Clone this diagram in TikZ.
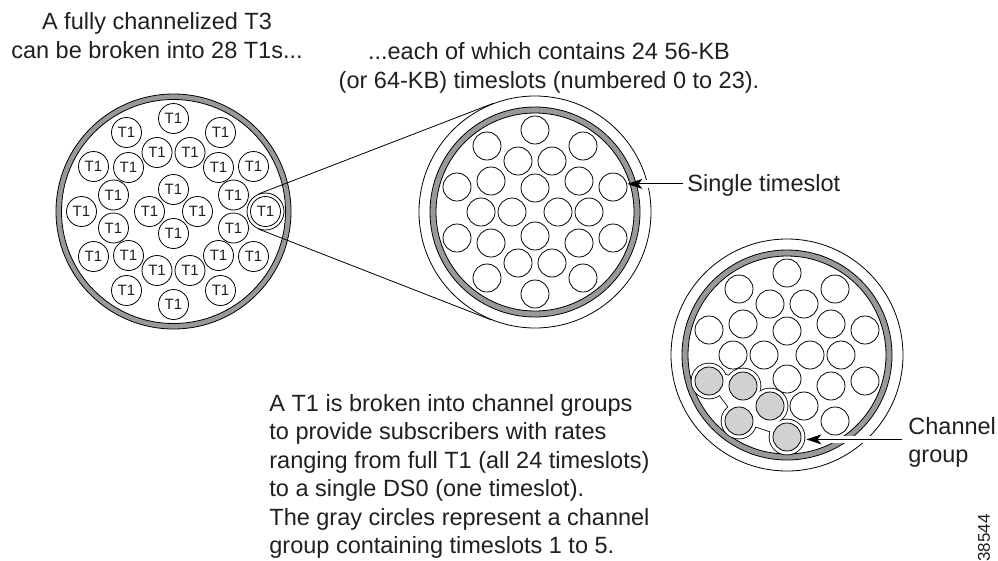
\documentclass[tikz,border=0pt]{standalone}
\usepackage{fontspec}
\setmainfont{Liberation Sans}
\usetikzlibrary{arrows.meta,calc}
\definecolor{ringgray}{gray}{0.6}
\definecolor{slotgray}{gray}{0.82}
\definecolor{ink}{HTML}{231F20}
\begin{document}
\begin{tikzpicture}[x=1pt, y=-1pt, line width=0.8pt,
  tonenode/.style={circle, draw, fill=white, inner sep=0pt, minimum size=30pt, font=\fontsize{15}{15}\selectfont, text=ink},
  slot/.style={circle, draw, fill=white, inner sep=0pt, minimum size=28pt},
  bigouter/.style={circle, draw, fill=white, inner sep=0pt, minimum size=232pt},
  ring/.style={draw, fill=ringgray, even odd rule},
  capt/.style={font=\fontsize{23.5}{28.5}\selectfont, inner sep=0pt, text=ink},
  pointer/.style={-{Stealth[length=15pt,width=10pt,inset=4pt]}, line width=1pt},
  halo/.style={draw=white, line width=8pt},
  blobline/.style={line width=1.6pt, line join=round}]
\useasboundingbox (0,0) rectangle (998,560);
\fill[white] (0,0) rectangle (998,560);

% ---------- left: channelized T3 ----------
\coordinate (L) at (173.5,211.5);
\path[ring] (L) circle[radius=117.5pt] (L) circle[radius=112pt];
\node[circle, draw, fill=white, inner sep=0pt, minimum size=37pt] (src) at ([shift={(92,0)}]L) {};
\foreach \n/\dx/\dy in {1/0/-93, 2/-47/-79, 3/47/-79, 4/-16.5/-59, 5/16.5/-59,
  6/-80/-45, 7/-45/-44, 8/45/-44, 9/80/-45, 10/0/-22, 11/-60/-16.5, 12/60/-16.5,
  13/-92/0, 14/-24/0, 15/24/0, 16/92/0, 17/0/22, 18/-60/16.5, 19/60/16.5,
  20/-80/45, 21/-45/44, 22/45/44, 23/80/45, 24/-16.5/59, 25/16.5/59,
  26/-47/79, 27/47/79, 28/0/93}
  \node[tonenode] (t\n) at ([shift={(\dx,\dy)}]L) {T1};

% ---------- middle: one T1 ----------
\coordinate (M) at (535,212);
\node[bigouter] (mout) at (M) {};
\draw (src.111.2) -- (mout.111.2);
\draw (src.248.8) -- (mout.248.8);
\path[ring] (M) circle[radius=105pt] (M) circle[radius=99pt];
\foreach \n/\dx/\dy in {1/0/-82, 2/-48/-66, 3/48/-66, 4/-17/-51, 5/17/-51,
  6/-78/-25, 7/-44/-31, 8/0/-24, 9/44/-31, 10/78/-25, 11/-54/0, 12/-23/0,
  13/23/0, 14/54/0, 15/-78/26, 16/-44/31, 17/0/24, 18/44/31, 19/78/26,
  20/-17/51, 21/17/51, 22/-48/66, 23/48/66, 24/0/82}
  \node[slot] (a\n) at ([shift={(\dx,\dy)}]M) {};

% ---------- right: T1 with channel group ----------
\coordinate (R) at (787,355);
\node[bigouter] (rout) at (R) {};
\path[ring] (R) circle[radius=105pt] (R) circle[radius=99pt];
\coordinate (g1) at ([shift={(-78,26)}]R);
\coordinate (g2) at ([shift={(-44,31)}]R);
\coordinate (g3) at ([shift={(-17,51)}]R);
\coordinate (g4) at ([shift={(-48,66)}]R);
\coordinate (g5) at ([shift={(0,82)}]R);
\coordinate (gf) at ([shift={(-61,30)}]R);
\foreach \p in {g1,g2,g3,g4,g5} \draw[blobline] (\p) circle[radius=17.5pt];
\draw[blobline] (g1) -- (g2) -- (g3) -- (g5) -- (g4) -- cycle;
\draw[blobline] (gf) circle[radius=10pt];
\foreach \p in {g1,g2,g3,g4,g5} \fill[white] (\p) circle[radius=17.5pt];
\fill[white] (g1) -- (g2) -- (g3) -- (g5) -- (g4) -- cycle;
\fill[white] (gf) circle[radius=10pt];
\foreach \n/\dx/\dy/\c in {1/0/-82/white, 2/-48/-66/white, 3/48/-66/white,
  4/-17/-51/white, 5/17/-51/white, 6/-78/-25/white, 7/-44/-31/white,
  8/0/-24/white, 9/44/-31/white, 10/78/-25/white, 11/-54/0/white,
  12/-23/0/white, 13/23/0/white, 14/54/0/white, 15/-78/26/slotgray,
  16/-44/31/slotgray, 17/0/24/white, 18/44/31/white, 19/78/26/white,
  20/-17/51/slotgray, 21/17/51/white, 22/-48/66/slotgray, 23/48/66/white,
  24/0/82/slotgray}
  \node[slot, fill=\c] (b\n) at ([shift={(\dx,\dy)}]R) {};

% ---------- texts ----------
\node[capt, anchor=north, align=center] (ttlL) at (157,9.4)
  {\strut A fully channelized T3\\can be broken into 28 T1s...\strut};
\node[capt, anchor=north, align=center] (ttlM) at (549,39.5)
  {\strut ...each of which contains 24 56-KB\\(or 64-KB) timeslots (numbered 0 to 23).\strut};
\node[capt, anchor=north west, align=left] (para) at (269,390.7)
  {\strut A T1 is broken into channel groups\\to provide subscribers with rates\\ranging from full T1 (all 24 timeslots)\\to a single DS0 (one timeslot).\\The gray circles represent a channel\\group containing timeslots 1 to 5.\strut};
\node[capt, anchor=base west] (lbl) at (687,191.5) {Single timeslot};
\node[capt, anchor=north west, align=left] (grp) at (908,414) {\strut Channel\\group\strut};
\node[font=\fontsize{17}{17}\selectfont, rotate=90, anchor=west, inner sep=0pt, text=ink] (figno) at (984,562) {38544};

% ---------- pointers ----------
\coordinate (tsTip) at ($(lbl.west -| a10.east)+(0,-1.5)$);
\coordinate (tsTail) at ($(lbl.west)+(-4,-1.5)$);
\draw[halo] ($(tsTip)+(16,0)$) -- (tsTail);
\draw[pointer] (tsTail) -- (tsTip);
\coordinate (cgTail) at ($(grp.west)+(-6,-3.5)$);
\coordinate (cgTip) at ($(cgTail -| b24.east)+(5,0)$);
\draw[halo, line width=7pt] ($(cgTip)+(16,0)$) -- (cgTail);
\draw[pointer] (cgTail) -- (cgTip);
\end{tikzpicture}
\end{document}
